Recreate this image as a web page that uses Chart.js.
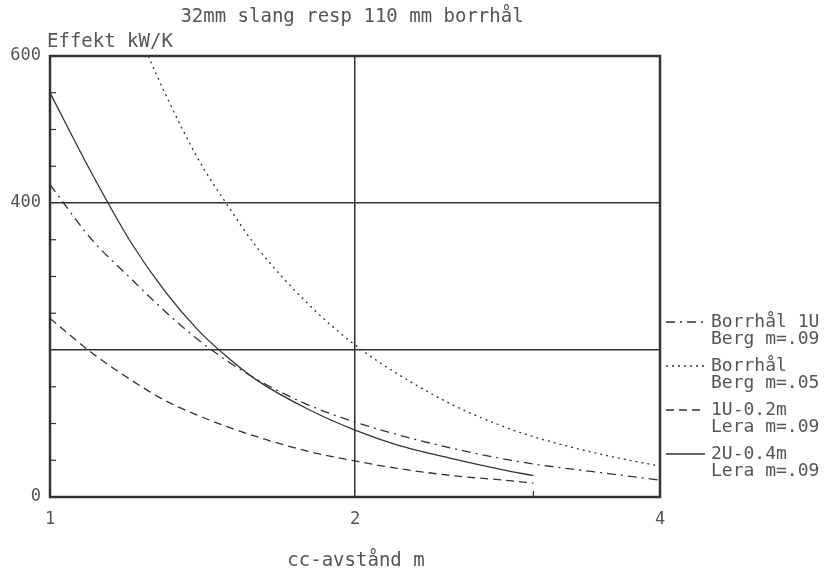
<!DOCTYPE html>
<html>
<head>
<meta charset="utf-8">
<script src="https://cdn.jsdelivr.net/npm/chart.js@4.4.1/dist/chart.umd.min.js"></script>
<style>
html, body { margin: 0; background: #fff; }
#wrap { width: 832px; height: 573px; position: relative; }
</style>
</head>
<body>
<div id="wrap"><canvas id="c"></canvas></div>
<script>
// cc-avstånd (m) vs Effekt (kW/K)
var xBorrhal1U = [1, 1.1, 1.2, 1.3, 1.4, 1.5, 1.6, 1.8, 2, 2.2, 2.5, 2.8, 3, 3.5, 4];
var yBorrhal1U = [425, 350, 298, 252, 214, 184, 160, 125, 102, 85, 66, 52, 45, 33, 23];

var xBorrhal = [1.25, 1.3, 1.4, 1.5, 1.6, 1.8, 2, 2.2, 2.5, 2.8, 3, 3.5, 4];
var yBorrhal = [600, 548, 460, 395, 340, 262, 207, 168, 125, 96, 82, 58, 42];

var x1U = [1, 1.1, 1.2, 1.3, 1.4, 1.5, 1.6, 1.8, 2, 2.2, 2.5, 2.8, 3];
var y1U = [243, 196, 160, 131, 111, 95, 82, 62, 49, 39, 29, 23, 19];

var x2U = [1, 1.1, 1.2, 1.3, 1.4, 1.5, 1.6, 1.8, 2, 2.2, 2.5, 2.8, 3];
var y2U = [550, 440, 348, 279, 227, 189, 159, 119, 91, 71, 52, 37, 29];

var xTicks = [1, 2, 3, 4];
var xTickLabels = ['1', '2', '', '4'];
var yTicks = [0, 200, 400, 600];
var yTickLabels = ['0', '', '400', '600'];
var yMinor = [50, 100, 150, 250, 300, 350, 450, 500, 550];

var INK = '#333';
var TXT = '#555';
var MONO = '"DejaVu Sans Mono", "Liberation Mono", monospace';

function pts(xs, ys) {
    return xs.map(function(x, i) { return { x: x, y: ys[i] }; });
}

function ds(label, xs, ys, dash) {
    return { label: label, data: pts(xs, ys), borderColor: INK, borderWidth: 1.3,
             borderDash: dash, pointRadius: 0, cubicInterpolationMode: 'monotone', fill: false };
}

var decor = {
    id: 'decor',
    afterDraw: function(chart) {
        var ctx = chart.ctx, a = chart.chartArea;
        var xs = chart.scales.x, ys = chart.scales.y;
        ctx.save();
        // frame
        ctx.strokeStyle = INK;
        ctx.lineWidth = 2.5;
        ctx.setLineDash([]);
        ctx.strokeRect(a.left, a.top, a.right - a.left, a.bottom - a.top);
        // minor ticks
        ctx.lineWidth = 1.2;
        yMinor.forEach(function(v) {
            var y = ys.getPixelForValue(v);
            ctx.beginPath(); ctx.moveTo(a.left, y); ctx.lineTo(a.left + 6, y); ctx.stroke();
        });
        var x3 = xs.getPixelForValue(3);
        ctx.beginPath(); ctx.moveTo(x3, a.bottom); ctx.lineTo(x3, a.bottom - 6); ctx.stroke();

        // texts
        ctx.fillStyle = TXT;
        ctx.font = '19px ' + MONO;
        ctx.textBaseline = 'middle';
        ctx.textAlign = 'center';
        ctx.fillText('32mm slang resp 110 mm borrhål', 352, 17);
        ctx.fillText('cc-avstånd m', 356, 561);
        ctx.textAlign = 'left';
        ctx.fillText('Effekt kW/K', 47, 42);

        // legend
        ctx.font = '18px ' + MONO;
        var rows = [322, 366, 410, 454];
        chart.data.datasets.forEach(function(d, i) {
            var y = rows[i];
            ctx.strokeStyle = INK;
            ctx.lineWidth = 1.3;
            ctx.setLineDash(d.borderDash || []);
            ctx.beginPath(); ctx.moveTo(666, y); ctx.lineTo(705, y); ctx.stroke();
            ctx.fillText(d.label[0], 711, y);
            ctx.fillText(d.label[1], 711, y + 17);
        });
        ctx.restore();
    }
};

new Chart(document.getElementById('c'), {
    type: 'line',
    data: { datasets: [
        ds(['Borrhål 1U', 'Berg m=.09'], xBorrhal1U, yBorrhal1U, [9, 5, 2, 5]),
        ds(['Borrhål', 'Berg m=.05'], xBorrhal, yBorrhal, [2, 4]),
        ds(['1U-0.2m', 'Lera m=.09'], x1U, y1U, [8, 5]),
        ds(['2U-0.4m', 'Lera m=.09'], x2U, y2U, [])
    ] },
    options: {
        responsive: true, maintainAspectRatio: false, animation: false,
        layout: { padding: { top: 56, right: 172, left: 0, bottom: 0 } },
        plugins: { legend: { display: false }, tooltip: { enabled: false }, title: { display: false } },
        scales: {
            x: {
                type: 'logarithmic', min: 1, max: 4,
                afterBuildTicks: function(s) { s.ticks = xTicks.map(function(v) { return { value: v }; }); },
                afterFit: function(s) { s.height = 76; },
                ticks: { color: TXT, font: { family: MONO, size: 17 }, padding: 12, maxRotation: 0, autoSkip: false,
                         callback: function(v) { var i = xTicks.indexOf(v); return i < 0 ? '' : xTickLabels[i]; } },
                grid: { drawTicks: false, lineWidth: 1.5,
                        color: function(c) { return c.tick && c.tick.value === 2 ? INK : 'rgba(0,0,0,0)'; } },
                border: { display: false }
            },
            y: {
                min: 0, max: 600,
                afterBuildTicks: function(s) { s.ticks = yTicks.map(function(v) { return { value: v }; }); },
                afterFit: function(s) { s.width = 50; },
                ticks: { color: TXT, font: { family: MONO, size: 17 }, padding: 9, autoSkip: false,
                         callback: function(v) { var i = yTicks.indexOf(v); return i < 0 ? '' : yTickLabels[i]; } },
                grid: { drawTicks: false, lineWidth: 1.5,
                        color: function(c) { return c.tick && (c.tick.value === 200 || c.tick.value === 400) ? INK : 'rgba(0,0,0,0)'; } },
                border: { display: false }
            }
        }
    },
    plugins: [decor]
});
</script>
</body>
</html>
